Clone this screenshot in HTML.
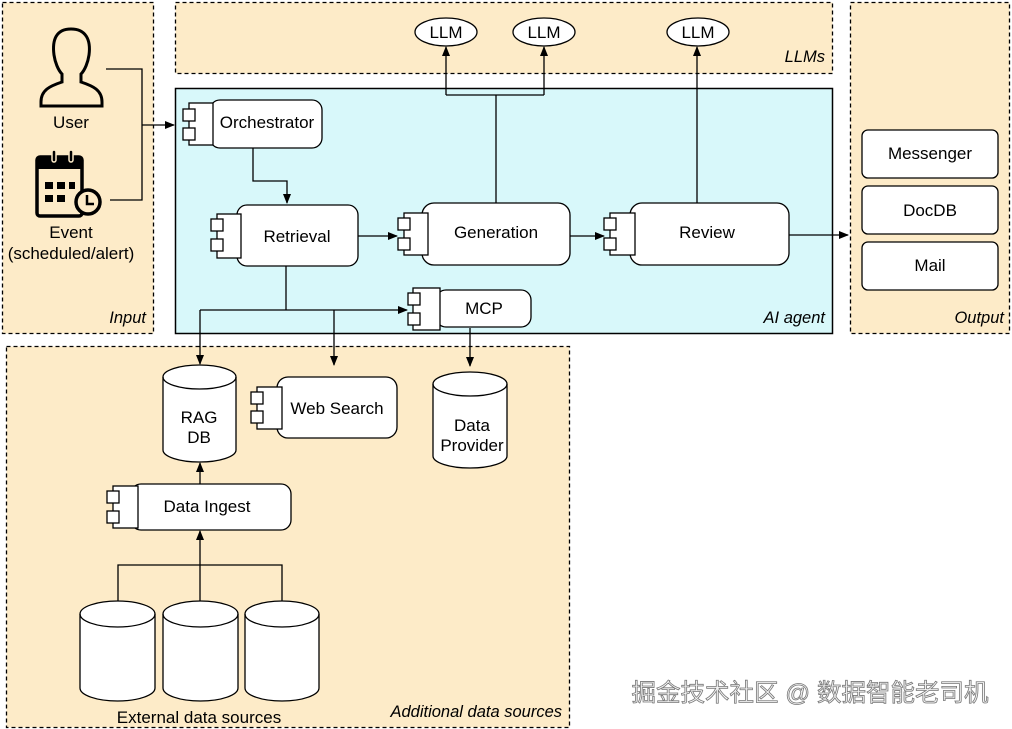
<!DOCTYPE html>
<html><head><meta charset="utf-8"><style>
html,body{margin:0;padding:0;background:#fff;}
svg{display:block;font-family:"Liberation Sans",Arial,sans-serif;}
</style></head><body>
<svg width="1012" height="729" viewBox="0 0 1012 729" xmlns="http://www.w3.org/2000/svg">
<defs>
<marker id="a" markerWidth="10" markerHeight="8" refX="9" refY="4" orient="auto" markerUnits="userSpaceOnUse"><path d="M0,0 L10,4 L0,8 z" fill="#000"/></marker>
</defs>
<g stroke="#000" stroke-width="1.3" stroke-dasharray="4,3" fill="#fdebc8">
<rect x="2.5" y="2.5" width="151" height="331"/>
<rect x="175.5" y="2.5" width="657" height="71"/>
<rect x="850.5" y="2.5" width="159" height="331"/>
<rect x="6.5" y="346.5" width="563" height="381"/>
</g>
<rect x="175.5" y="88.5" width="657" height="245" fill="#d8f8fa" stroke="#000" stroke-width="1.5"/>
<g font-style="italic" font-size="16.5" text-anchor="end" fill="#000">
<text x="146" y="323">Input</text>
<text x="825" y="62">LLMs</text>
<text x="825" y="323">AI agent</text>
<text x="1004" y="323">Output</text>
<text x="562" y="717">Additional data sources</text>
</g>
<path d="M71,29 C56,29 52,40 54,55 C55,62 58,70 62,74 L62,82 C50,86 41,90 41,102 L41,106 L102,106 L102,102 C102,90 93,86 81,82 L81,74 C85,70 88,62 89,55 C91,40 86,29 71,29 Z" fill="none" stroke="#000" stroke-width="3"/>
<text x="71" y="128" font-size="17" text-anchor="middle">User</text>
<rect x="37" y="157" width="45" height="59" rx="3" fill="none" stroke="#000" stroke-width="3.5"/>
<rect x="37" y="157" width="45" height="12" fill="#000"/>
<rect x="52" y="150" width="4" height="12" rx="2" fill="#000" stroke="#fdebc8" stroke-width="1.5"/>
<rect x="69" y="150" width="4" height="12" rx="2" fill="#000" stroke="#fdebc8" stroke-width="1.5"/>
<g fill="#000"><rect x="45" y="182" width="8" height="7"/><rect x="57" y="182" width="8" height="7"/><rect x="69" y="182" width="6" height="7"/><rect x="45" y="195" width="8" height="7"/><rect x="57" y="195" width="8" height="7"/></g>
<circle cx="88" cy="202" r="12" fill="#fdebc8" stroke="#000" stroke-width="3.5"/>
<path d="M87,195 L87,204 L94,204" fill="none" stroke="#000" stroke-width="2.5"/>
<text x="71" y="238" font-size="17" text-anchor="middle">Event</text>
<text x="71" y="259" font-size="17" text-anchor="middle">(scheduled/alert)</text>
<g fill="none" stroke="#000" stroke-width="1.3">
<polyline points="106,69 142,69 142,200 110,200"/>
<line x1="142" y1="125" x2="174" y2="125" marker-end="url(#a)"/>
<polyline points="253,148 253,181 287,181 287,203" marker-end="url(#a)"/>
<line x1="358" y1="236" x2="397" y2="236" marker-end="url(#a)"/>
<line x1="570" y1="236" x2="604" y2="236" marker-end="url(#a)"/>
<line x1="789" y1="235" x2="848" y2="235" marker-end="url(#a)"/>
<line x1="496" y1="203" x2="496" y2="95"/>
<polyline points="446,95 544,95"/>
<line x1="446" y1="95" x2="446" y2="47" marker-end="url(#a)"/>
<line x1="544" y1="95" x2="544" y2="47" marker-end="url(#a)"/>
<line x1="697" y1="203" x2="697" y2="47" marker-end="url(#a)"/>
<line x1="286" y1="266" x2="286" y2="310"/>
<line x1="200" y1="310" x2="407" y2="310" marker-end="url(#a)"/>
<line x1="200" y1="310" x2="200" y2="364" marker-end="url(#a)"/>
<line x1="334" y1="310" x2="334" y2="365" marker-end="url(#a)"/>
<line x1="470" y1="328" x2="470" y2="366" marker-end="url(#a)"/>
<line x1="200" y1="484" x2="200" y2="463" marker-end="url(#a)"/>
<line x1="200" y1="602" x2="200" y2="531" marker-end="url(#a)"/>
<polyline points="118,602 118,565 282,565 282,602"/>
</g>
<g fill="#fff" stroke="#000" stroke-width="1.3">
<ellipse cx="446" cy="32" rx="31" ry="14"/>
<ellipse cx="544" cy="32" rx="31" ry="14"/>
<ellipse cx="698" cy="32" rx="31" ry="14"/>
</g>
<g font-size="17" text-anchor="middle">
<text x="446" y="38">LLM</text><text x="544" y="38">LLM</text><text x="698" y="38">LLM</text>
</g>
<g fill="#fff" stroke="#000" stroke-width="1.3">
<rect x="210" y="100" width="112" height="48" rx="10"/>
<rect x="189" y="103" width="24" height="42"/><rect x="183" y="109" width="12" height="12"/><rect x="183" y="128" width="12" height="12"/>
<rect x="237" y="205" width="121" height="61" rx="10"/>
<rect x="217" y="214" width="24" height="44"/><rect x="211" y="219" width="12" height="12"/><rect x="211" y="239" width="12" height="12"/>
<rect x="422" y="203" width="148" height="62" rx="12"/>
<rect x="404" y="213" width="24" height="42"/><rect x="398" y="218" width="12" height="12"/><rect x="398" y="238" width="12" height="12"/>
<rect x="630" y="203" width="159" height="62" rx="12"/>
<rect x="610" y="213" width="25" height="42"/><rect x="604" y="218" width="12" height="12"/><rect x="604" y="238" width="12" height="12"/>
<rect x="436" y="290" width="95" height="37" rx="10"/>
<rect x="413" y="288" width="27" height="42"/><rect x="408" y="293" width="12" height="12"/><rect x="408" y="313" width="12" height="12"/>
<rect x="277" y="377" width="120" height="61" rx="11"/>
<rect x="257" y="387" width="25" height="42"/><rect x="251" y="392" width="12" height="12"/><rect x="251" y="411" width="12" height="12"/>
<rect x="131" y="484" width="160" height="46" rx="10"/>
<rect x="113" y="486" width="25" height="42"/><rect x="107" y="491" width="12" height="12"/><rect x="107" y="511" width="12" height="12"/>
<rect x="862" y="130" width="136" height="48" rx="6"/>
<rect x="862" y="186" width="136" height="48" rx="6"/>
<rect x="862" y="242" width="136" height="48" rx="6"/>
</g>
<g font-size="17" text-anchor="middle">
<text x="267" y="128">Orchestrator</text>
<text x="297" y="242">Retrieval</text>
<text x="496" y="238">Generation</text>
<text x="707" y="238">Review</text>
<text x="484" y="314">MCP</text>
<text x="337" y="414">Web Search</text>
<text x="207" y="512">Data Ingest</text>
<text x="930" y="159">Messenger</text>
<text x="930" y="216">DocDB</text>
<text x="930" y="271">Mail</text>
</g>
<g fill="#fff" stroke="#000" stroke-width="1.3">
<path d="M163,377 L163,450 A36.5,12 0 0 0 236,450 L236,377 A36.5,12 0 0 0 163,377 Z"/><path d="M163,377 A36.5,12 0 0 0 236,377" fill="none"/>
<path d="M433,384 L433,456 A37,12 0 0 0 507,456 L507,384 A37,12 0 0 0 433,384 Z"/><path d="M433,384 A37,12 0 0 0 507,384" fill="none"/>
<path d="M80,614 L80,688 A37.5,13 0 0 0 155,688 L155,614 A37.5,13 0 0 0 80,614 Z"/><path d="M80,614 A37.5,13 0 0 0 155,614" fill="none"/>
<path d="M163,614 L163,688 A37.5,13 0 0 0 238,688 L238,614 A37.5,13 0 0 0 163,614 Z"/><path d="M163,614 A37.5,13 0 0 0 238,614" fill="none"/>
<path d="M245,614 L245,688 A37,13 0 0 0 319,688 L319,614 A37,13 0 0 0 245,614 Z"/><path d="M245,614 A37,13 0 0 0 319,614" fill="none"/>
</g>
<g font-size="17" text-anchor="middle">
<text x="199" y="423">RAG</text><text x="199" y="443">DB</text>
<text x="472" y="431">Data</text><text x="472" y="451">Provider</text>
<text x="199" y="723">External data sources</text>
</g>
<text x="810" y="701" font-size="24.5" text-anchor="middle" fill="#f4f4f4" stroke="#777" stroke-width="0.8" font-family="'Liberation Sans','Noto Sans CJK SC',sans-serif">掘金技术社区 @ 数据智能老司机</text>
</svg>
</body></html>
